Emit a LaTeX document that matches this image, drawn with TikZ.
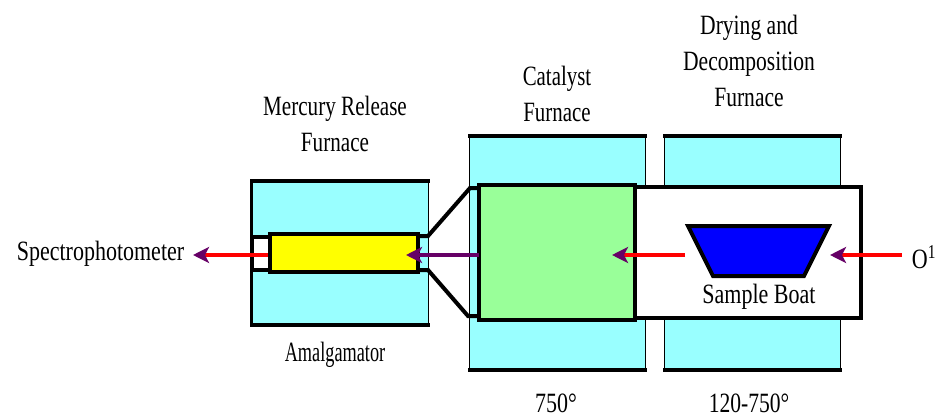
\documentclass[tikz,border=0pt]{standalone}
\usepackage{fontspec}
\setmainfont{Liberation Serif}
\usetikzlibrary{arrows.meta,calc}
\definecolor{cyanbox}{RGB}{153,255,255}
\definecolor{yellowbox}{RGB}{255,255,0}
\definecolor{greenbox}{RGB}{153,255,153}
\definecolor{boatblue}{RGB}{0,0,255}
\definecolor{tip}{RGB}{102,0,102}
\tikzset{
  x=0.75pt,y=-0.75pt,
  thinbox/.style={draw=black,line width=1.2pt,fill=cyanbox},
  thickbox/.style={draw=black,line width=3pt},
  edge/.style={black,line width=3pt,line cap=butt},
  flow/.style={line width=2.7pt,-{Stealth[length=12pt,width=12pt,inset=3pt,color=tip]}},
  lbl/.style={inner sep=0pt,align=center,font=\fontsize{16.5}{21.5}\selectfont,yscale=1.27},
  box/.style={inner sep=0pt,outer sep=0pt,rectangle},
}
\newcommand{\boxnode}[6]{\node[box,#1,minimum width=#4*0.75pt,minimum height=#5*0.75pt] (#6) at (#2,#3) {};}
\begin{document}
\begin{tikzpicture}
\useasboundingbox (0,0) rectangle (945,417);
% furnaces
\boxnode{thinbox}{557.5}{253}{176}{234}{catalystfurnace}
\boxnode{thinbox}{752.5}{253}{176}{234}{dryingfurnace}
\boxnode{thinbox}{340}{253}{177}{144}{mercuryfurnace}
\draw[edge] ([xshift=-0.9pt]catalystfurnace.north west)--([xshift=0.9pt]catalystfurnace.north east);
\draw[edge] ([xshift=-0.9pt]catalystfurnace.south west)--([xshift=0.9pt]catalystfurnace.south east);
\draw[edge] ([xshift=-0.9pt]dryingfurnace.north west)--([xshift=0.9pt]dryingfurnace.north east);
\draw[edge] ([xshift=-0.9pt]dryingfurnace.south west)--([xshift=0.9pt]dryingfurnace.south east);
\draw[edge] ([xshift=-0.9pt]mercuryfurnace.north west)--([xshift=0.9pt]mercuryfurnace.north east);
\draw[edge] ([xshift=-0.9pt]mercuryfurnace.south west)--([xshift=0.9pt]mercuryfurnace.south east);
\draw[black,line width=2.4pt] (mercuryfurnace.north west)--(mercuryfurnace.south west);
% tube
\boxnode{thickbox,fill=white}{748}{252.5}{226}{131}{tube}
\coordinate (ft1) at (419,236); \coordinate (ft2) at (428,236); \coordinate (ft3) at (470,188); \coordinate (ft4) at (479,188);
\coordinate (fb1) at (419,270); \coordinate (fb2) at (428,270); \coordinate (fb3) at (468,316); \coordinate (fb4) at (479,316);
\draw[edge] (ft1)--(ft2)--(ft3)--(ft4);
\draw[edge] (fb1)--(fb2)--(fb3)--(fb4);
\boxnode{thickbox,fill=white}{261}{253}{18}{33}{channel}
\boxnode{thickbox,fill=greenbox}{557}{252.5}{156}{135}{catalyst}
\boxnode{thickbox,fill=yellowbox}{344}{253}{148}{37.5}{amalgam}
% boat
\coordinate (b1) at (688,226); \coordinate (b2) at (829,226); \coordinate (b3) at (804,276); \coordinate (b4) at (713,276);
\draw[black,line width=3pt,fill=boatblue,line join=miter] (b1)--(b2)--(b3)--(b4)--cycle;
% flow
\coordinate (inlet) at (902,255); \coordinate (inend) at (830,255);
\coordinate (boatl) at (685,255); \coordinate (catend) at (612,255);
\coordinate (catl) at (479,255); \coordinate (amend) at (406,255);
\coordinate (ams) at (268,255); \coordinate (spec) at (193,255);
\draw[flow,red] (inlet)--(inend);
\draw[flow,red] (boatl)--(catend);
\draw[flow,tip] (catl)--(amend);
\draw[flow,red] (ams)--(spec);
% labels
\node[lbl,xscale=.96] (t1) at (335,124) {Mercury Release\\Furnace};
\node[lbl,xscale=.95] (t2) at (557,94) {Catalyst\\Furnace};
\node[lbl,xscale=.98] (t3) at (749,61) {Drying and\\Decomposition\\Furnace};
\node[lbl] (t4) at (100.5,254) {Spectrophotometer};
\node[lbl,xscale=.83] (t5) at (335,355) {Amalgamator};
\node[lbl] (t6) at (759,297) {Sample Boat};
\node[lbl] (t7) at (556,403) {750°};
\node[lbl,xscale=.98] (t8) at (749,403) {120-750°};
\node[lbl] (t9) at (924,257) {O\textsuperscript{1}};
\end{tikzpicture}
\end{document}
